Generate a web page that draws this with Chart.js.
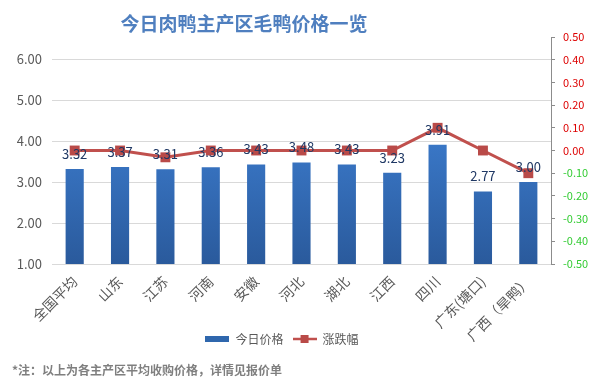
<!DOCTYPE html>
<html>
<head>
<meta charset="utf-8">
<script src="https://cdn.jsdelivr.net/npm/chart.js@4.4.1/dist/chart.umd.min.js"></script>
<style>
  html, body { margin: 0; padding: 0; background: #fff; }
  #wrap { width: 594px; height: 391px; }
</style>
</head>
<body>
<div id="wrap"><canvas id="myChart" width="594" height="391"></canvas></div>
<script>
const regions = ['全国平均', '山东', '江苏', '河南', '安徽', '河北', '湖北', '江西', '四川', '广东(塘口)', '广西（旱鸭）'];
const prices = [3.32, 3.37, 3.31, 3.36, 3.43, 3.48, 3.43, 3.23, 3.91, 2.77, 3.00];
const changes = [0.00, 0.00, -0.03, 0.00, 0.00, 0.00, 0.00, 0.00, 0.10, 0.00, -0.10];
const priceTicks = [1, 6];
const changeTicks = [-0.5, 0.5];

const FONT = '"Noto Sans CJK SC", "Noto Sans", sans-serif';
const ctx = document.getElementById('myChart').getContext('2d');

// little images for the legend: blue bar / red line with square
function legendImg(kind) {
  const c = document.createElement('canvas');
  c.width = 24; c.height = 12;
  const g = c.getContext('2d');
  if (kind === 'bar') {
    g.fillStyle = '#2f67ad';
    g.fillRect(0, 3, 24, 6);
  } else {
    g.strokeStyle = '#c0504d';
    g.lineWidth = 2.5;
    g.beginPath(); g.moveTo(0, 6); g.lineTo(24, 6); g.stroke();
    g.fillStyle = '#b94a48';
    g.fillRect(8, 2, 8, 8);
  }
  return c;
}
const legendImages = [legendImg('bar'), legendImg('line')];

// title, footnote and the value labels on top of the bars
const extras = {
  id: 'extras',
  afterLayout(chart) {
    // pull the legend up next to the rotated labels, like the original
    const lg = chart.legend;
    const h = lg.bottom - lg.top;
    lg.top = 339 - 9 - 6;
    lg.bottom = lg.top + h;
    lg.left -= 15;
    lg.right -= 15;
  },
  afterDraw(chart) {
    const c = chart.ctx;
    c.save();
    c.textAlign = 'center';
    c.textBaseline = 'middle';
    c.fillStyle = '#4f7fbf';
    c.font = 'bold 19px ' + FONT;
    c.fillText('今日肉鸭主产区毛鸭价格一览', 244, 24);

    c.textAlign = 'left';
    c.fillStyle = '#7f7f7f';
    c.font = 'bold 12px ' + FONT;
    c.fillText('*注：以上为各主产区平均收购价格，详情见报价单', 12, 370);

    const meta = chart.getDatasetMeta(1);
    c.textAlign = 'center';
    c.fillStyle = '#1f3864';
    c.font = '13px ' + FONT;
    meta.data.forEach((bar, i) => {
      c.fillText(prices[i].toFixed(2), bar.x, bar.y - 15);
    });
    c.restore();
  }
};

const whiteBg = {
  id: 'whiteBg',
  beforeDraw(chart) {
    const c = chart.ctx;
    c.save();
    c.fillStyle = '#fff';
    c.fillRect(0, 0, chart.width, chart.height);
    c.restore();
  }
};

function barGradient(context) {
  const area = context.chart.chartArea;
  if (!area) return '#2f67ad';
  const g = context.chart.ctx.createLinearGradient(0, area.top + 100, 0, area.bottom);
  g.addColorStop(0, '#3a78c8');
  g.addColorStop(1, '#2a5a9c');
  return g;
}

new Chart(ctx, {
  type: 'bar',
  data: {
    labels: regions,
    datasets: [{
      type: 'line',
      label: '涨跌幅',
      data: changes,
      yAxisID: 'y1',
      borderColor: '#c0504d',
      backgroundColor: '#b94a48',
      borderWidth: 3,
      pointStyle: 'rect',
      pointRadius: 7,
      pointBorderWidth: 0,
      tension: 0,
      order: 0
    }, {
      label: '今日价格',
      data: prices,
      yAxisID: 'y',
      backgroundColor: barGradient,
      barPercentage: 0.4,
      categoryPercentage: 1,
      order: 1
    }]
  },
  options: {
    responsive: false,
    animation: false,
    layout: { padding: { top: 37, left: 0, right: 0, bottom: 0 } },
    plugins: {
      tooltip: { enabled: false },
      legend: {
        position: 'bottom',
        labels: {
          usePointStyle: true,
          pointStyleWidth: 24,
          color: '#595959',
          font: { family: FONT, size: 12 },
          padding: 9,
          generateLabels() {
            return [
              { text: '今日价格', pointStyle: legendImages[0], fontColor: '#595959', datasetIndex: 1, lineWidth: 0 },
              { text: '涨跌幅', pointStyle: legendImages[1], fontColor: '#595959', datasetIndex: 0, lineWidth: 0 }
            ];
          }
        }
      }
    },
    scales: {
      x: {
        grid: { display: false },
        border: { display: false },
        afterFit: s => { s.height = 96; },
        ticks: {
          color: '#595959',
          font: { family: FONT, size: 14 },
          minRotation: 45,
          maxRotation: 45,
          padding: 1
        }
      },
      y: {
        position: 'left',
        min: priceTicks[0],
        max: 6.54,
        grid: { color: '#d9d9d9', drawTicks: false },
        border: { display: false },
        afterFit: s => { s.width = 52; },
        ticks: {
          stepSize: 1,
          includeBounds: false,
          padding: 10,
          color: '#595959',
          font: { family: FONT, size: 13 },
          callback: v => v.toFixed(2)
        }
      },
      y1: {
        position: 'right',
        min: changeTicks[0],
        max: changeTicks[1],
        grid: { drawOnChartArea: false, color: '#8c8c8c', tickLength: 4 },
        border: { color: '#8c8c8c' },
        afterFit: s => { s.width = 43; },
        ticks: {
          stepSize: 0.1,
          padding: 8,
          font: { family: FONT, size: 11 },
          color: c => (c.tick && c.tick.value < -1e-9) ? '#33cc33' : '#dd0000',
          callback: v => v.toFixed(2)
        }
      }
    }
  },
  plugins: [whiteBg, extras]
});
</script>
</body>
</html>
